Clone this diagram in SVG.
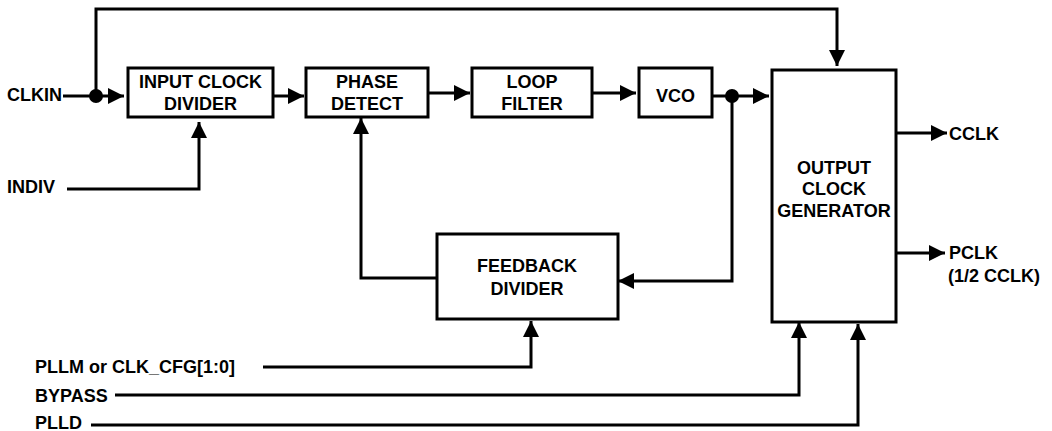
<svg xmlns="http://www.w3.org/2000/svg" width="1052" height="431" viewBox="0 0 1052 431">
<style>
.box{fill:#fff;stroke:#000;stroke-width:3}
.ln{fill:none;stroke:#000;stroke-width:3}
.arr{fill:none;stroke:#000;stroke-width:3;marker-end:url(#ah)}
text{font-family:"Liberation Sans",Arial,Helvetica,sans-serif;font-weight:bold;font-size:18px;fill:#000}
.c{text-anchor:middle}
</style>
<defs>
<marker id="ah" markerUnits="userSpaceOnUse" markerWidth="17" markerHeight="17" refX="16" refY="8" orient="auto">
<path d="M0,0 L16,8 L0,16 z" fill="#000"/>
</marker>
</defs>
<rect width="1052" height="431" fill="#fff"/>
<g id="connectors">
<path class="arr" d="M63,96 H124"/>
<path class="arr" d="M96,96 V9 H837 V66"/>
<path class="arr" d="M273,96 H304"/>
<path class="arr" d="M428,93 H470"/>
<path class="arr" d="M592,93 H636"/>
<path class="arr" d="M712,96 H769"/>
<path class="arr" d="M732,96 V281 H618"/>
<path class="arr" d="M437,278 H361 V118"/>
<path class="arr" d="M67,189 H199 V122"/>
<path class="arr" d="M263,367 H531 V321"/>
<path class="arr" d="M115,395 H799 V322"/>
<path class="arr" d="M91,425 H858 V324"/>
<path class="arr" d="M896,133 H947"/>
<path class="arr" d="M896,253 H945"/>
<circle cx="96" cy="96" r="7" fill="#000"/>
<circle cx="732" cy="96" r="7" fill="#000"/>
</g>
<g id="input-clock-divider">
<rect class="box" x="128" y="68" width="145" height="49"/>
<text class="c" x="200.5" y="88">INPUT CLOCK</text>
<text class="c" x="200.5" y="110">DIVIDER</text>
</g>
<g id="phase-detect">
<rect class="box" x="306" y="68" width="122" height="49"/>
<text class="c" x="367" y="88">PHASE</text>
<text class="c" x="367" y="110">DETECT</text>
</g>
<g id="loop-filter">
<rect class="box" x="472" y="68" width="120" height="49"/>
<text class="c" x="532" y="88">LOOP</text>
<text class="c" x="532" y="110">FILTER</text>
</g>
<g id="vco">
<rect class="box" x="639" y="68" width="73" height="49"/>
<text class="c" x="675.5" y="102">VCO</text>
</g>
<g id="output-clock-generator">
<rect class="box" x="772" y="70" width="124" height="252"/>
<text class="c" x="834" y="174">OUTPUT</text>
<text class="c" x="834" y="195">CLOCK</text>
<text class="c" x="834" y="217">GENERATOR</text>
</g>
<g id="feedback-divider">
<rect class="box" x="437" y="234" width="181" height="85"/>
<text class="c" x="527" y="272">FEEDBACK</text>
<text class="c" x="527" y="295">DIVIDER</text>
</g>
<g id="labels">
<text x="7" y="101">CLKIN</text>
<text x="7" y="193">INDIV</text>
<text x="35" y="373">PLLM or CLK_CFG[1:0]</text>
<text x="35" y="402">BYPASS</text>
<text x="35" y="429">PLLD</text>
<text x="949" y="140">CCLK</text>
<text x="949" y="259">PCLK</text>
<text x="948" y="282">(1/2 CCLK)</text>
</g>
</svg>
